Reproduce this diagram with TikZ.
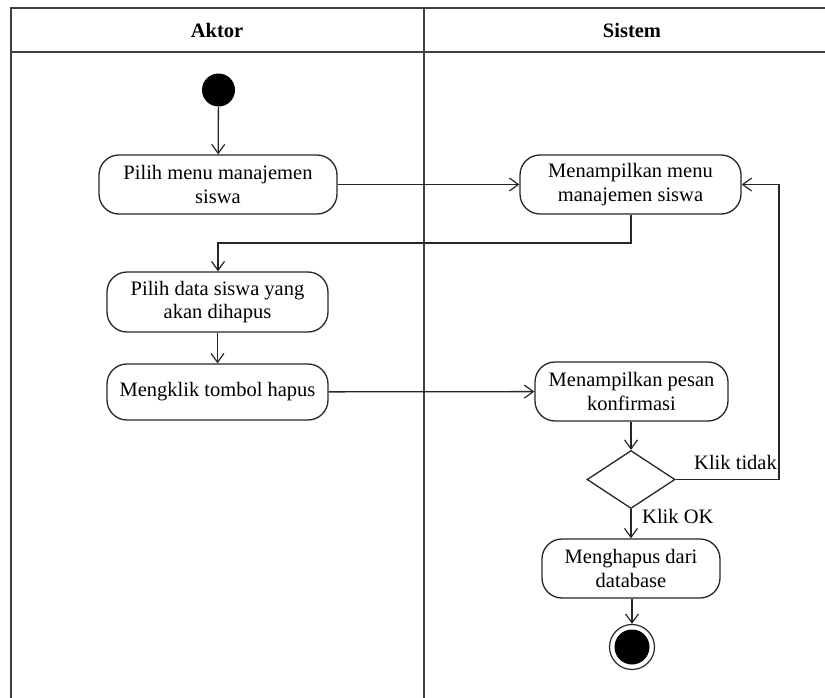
\documentclass[tikz,border=0pt]{standalone}
\usepackage{fontspec}
\setmainfont{Liberation Serif}
\usetikzlibrary{arrows.meta,shapes.geometric}

\tikzset{
  frameline/.style={draw=black!75, line width=1.6pt},
  action/.style={draw=black!85, line width=1.3pt, rounded corners=20pt,
    align=center, inner sep=0pt, font=\fontsize{20.5}{23.5}\selectfont},
  flow/.style={draw=black!85, line width=1.3pt,
    -{Straight Barb[length=9pt,width=13pt,line width=1.2pt]}},
  decision/.style={draw=black!85, line width=1.3pt, diamond, aspect=1.52,
    minimum width=88pt, minimum height=58pt, inner sep=0pt},
  guard/.style={font=\fontsize{20.5}{23.5}\selectfont, inner sep=0pt},
  lanehead/.style={font=\fontsize{20.5}{23.5}\selectfont\bfseries, inner sep=0pt}
}

\begin{document}
\begin{tikzpicture}[x=1pt,y=-1pt]
  \useasboundingbox (0,0) rectangle (825,698);

  % swimlane frame
  \draw[frameline] (11,698) -- (11,8) -- (825,8);
  \draw[frameline] (11,52) -- (825,52);
  \draw[frameline] (424,8) -- (424,698);
  \node[lanehead] (hAktor) at (217,30) {Aktor};
  \node[lanehead] (hSistem) at (632,30) {Sistem};

  % initial and final states
  \node[circle, fill=black, minimum size=33pt, inner sep=0pt] (start) at (218.5,90) {};
  \node[circle, draw=black!85, line width=1.2pt, minimum size=45pt, inner sep=0pt] (final) at (632,647) {};
  \node[circle, fill=black, minimum size=35pt, inner sep=0pt] (finalDot) at (632,647) {};

  % actions
  \node[action, minimum width=238pt, minimum height=59pt] (a1) at (218,184.5)
    {Pilih menu manajemen\\siswa};
  \node[action, minimum width=221pt, minimum height=59pt] (s1) at (630.5,184.5)
    {Menampilkan menu\\manajemen siswa};
  \node[action, minimum width=221pt, minimum height=60pt] (a2) at (217.5,302)
    {Pilih data siswa yang\\akan dihapus};
  \node[action, minimum width=221pt, minimum height=56pt] (a3) at (217.5,392)
    {Mengklik tombol hapus};
  \node[action, minimum width=193pt, minimum height=59pt] (s2) at (631.5,391.5)
    {Menampilkan pesan\\konfirmasi};
  \node[decision] (dec) at (631,479.5) {};
  \node[action, minimum width=178pt, minimum height=59pt] (s3) at (631,568.5)
    {Menghapus dari\\database};

  % turning points of the routed connectors
  \coordinate (bendA) at (631,243);
  \coordinate (bendB) at (218,243);
  \coordinate (loopA) at (779,479.5);
  \coordinate (loopB) at (779,184.5);

  % control flow
  \draw[flow] (start) -- (a1);
  \draw[flow] (a1) -- (s1);
  \draw[flow] (s1.south -| bendA) -- (bendA) -- (bendB) -- (a2.north -| bendB);
  \draw[flow] (a2) -- (a3);
  \draw[flow] (a3) -- (s2);
  \draw[flow] (s2.south -| dec) -- (dec.north);
  \draw[flow] (dec.east) -- (loopA) -- (loopB) -- (s1.east);
  \draw[flow] (dec.south) -- (s3.north -| dec);
  \draw[flow] (s3.south -| final) -- (final.north);

  % guards
  \node[guard, anchor=base east] (gNo) at (777,469) {Klik tidak};
  \node[guard, anchor=base west] (gOk) at (642,523) {Klik OK};
\end{tikzpicture}
\end{document}
